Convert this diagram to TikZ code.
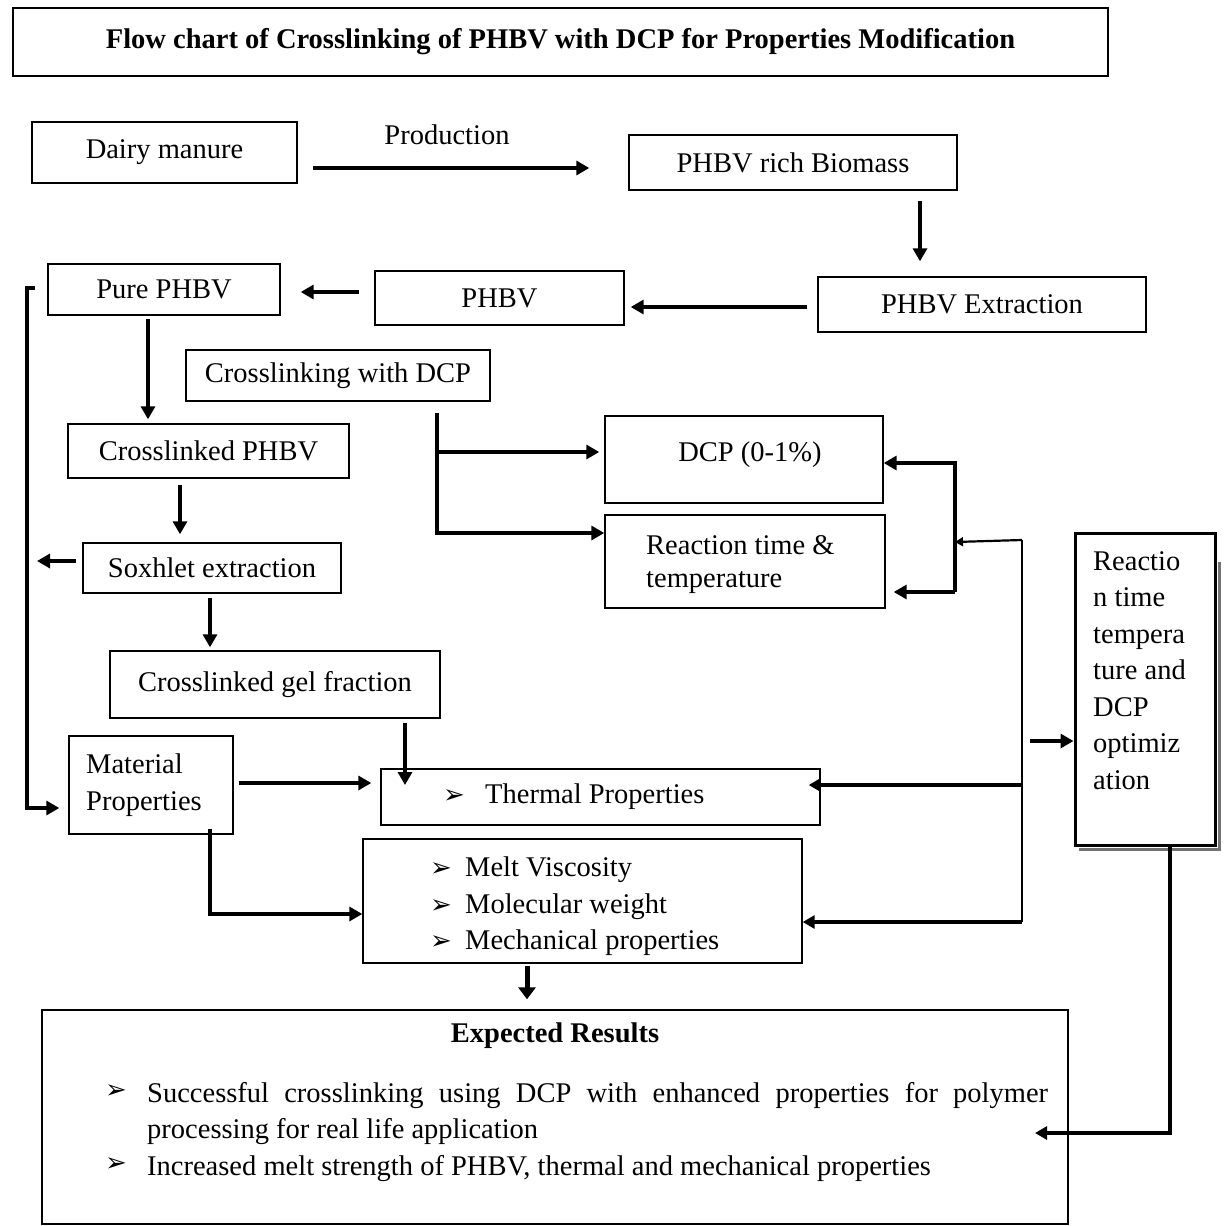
\documentclass[tikz,border=0pt]{standalone}
\usepackage{fontspec}
\setmainfont{Liberation Serif}
\newfontfamily\dvfont{DejaVu Sans}
\usetikzlibrary{arrows.meta}
\newcommand\fs{\fontsize{28.5}{36.5}\selectfont}
\newcommand\bul{{\dvfont\fontsize{26}{26}\selectfont ➢}}
\begin{document}
\begin{tikzpicture}[x=1pt,y=-1pt,
  box/.style={draw, line width=1.4pt, inner sep=0pt, font=\fs},
  txt/.style={inner sep=0pt, font=\fs},
  arr/.style={line width=4.5pt, -{Triangle[length=13pt,width=14pt]}},
  arrm/.style={line width=3.5pt, -{Triangle[length=12pt,width=13pt]}},
  thinln/.style={line width=2.2pt},
  thinarr/.style={line width=2.2pt, -{Triangle[length=8pt,width=9pt]}}]
\useasboundingbox[fill=white] (0,0) rectangle (1225,1226);

% boxes
\node[box, minimum width=1095pt, minimum height=68pt] (title) at (560.5,42) {\bfseries Flow chart of Crosslinking of PHBV with DCP for Properties Modification};
\node[box, minimum width=265pt, minimum height=61pt] (dairy) at (164.5,152.5) {Dairy manure};
\node[txt] (prod) at (447,135) {Production};
\node[box, minimum width=328pt, minimum height=55pt] (biomass) at (793,162.5) {PHBV rich Biomass};
\node[box, minimum width=328pt, minimum height=55pt] (extr) at (982,304.5) {PHBV Extraction};
\node[box, minimum width=249pt, minimum height=54pt] (phbv) at (499.5,298) {PHBV};
\node[box, minimum width=232pt, minimum height=51pt] (pure) at (164,289.5) {Pure PHBV};
\node[box, minimum width=304pt, minimum height=51pt] (xdcp) at (338,375.5) {Crosslinking with DCP};
\node[box, minimum width=281pt, minimum height=54pt] (xphbv) at (208.5,451) {Crosslinked PHBV};
\node[box, minimum width=258pt, minimum height=50pt] (sox) at (212,568) {Soxhlet extraction};
\node[box, minimum width=330pt, minimum height=67pt] (gel) at (275,684.5) {Crosslinked gel fraction};
\node[box, minimum width=164pt, minimum height=98pt] (mat) at (151,785) {};
\node[txt, anchor=north west, align=left] (matt) at (86,754) {Material\\Properties};
\node[box, minimum width=439pt, minimum height=56pt] (therm) at (600.5,797) {};
\node[txt, anchor=west] (thermt) at (443,797) {\makebox[42pt][l]{\bul}Thermal Properties};
\node[box, minimum width=439pt, minimum height=124pt] (props) at (582.5,901) {};
\node[txt, anchor=north west, align=left] (propst) at (430,857) {\makebox[35pt][l]{\bul}Melt Viscosity\\\makebox[35pt][l]{\bul}Molecular weight\\\makebox[35pt][l]{\bul}Mechanical properties};
\node[box, minimum width=1026pt, minimum height=214pt] (res) at (555,1117) {};
\node[txt, font=\fs\bfseries] (rest) at (555,1036) {Expected Results};
\node[txt, anchor=north west, align=left] (resi) at (147,1082) {\makebox[901pt][s]{Successful crosslinking using DCP with enhanced properties for polymer}\\processing for real life application\\Increased melt strength of PHBV, thermal and mechanical properties};
\node[txt] (b1) at (116,1092) {\bul};
\node[txt] (b2) at (116,1165) {\bul};
\node[box, minimum width=278pt, minimum height=87pt] (dcp) at (744,459.5) {};
\node[txt] (dcpt) at (750,455) {DCP (0-1\%)};
\node[box, minimum width=280pt, minimum height=93pt] (rt) at (745,561.5) {};
\node[txt, anchor=north west, align=left, font=\fontsize{28.5}{33}\selectfont] (rtt) at (646,535) {Reaction time \&\\temperature};
\node[box, line width=3pt, minimum width=140pt, minimum height=312pt] (opt) at (1145,689) {};
\node[txt, anchor=north west, align=left] (optt) at (1093,551) {Reactio\\n time\\tempera\\ture and\\DCP\\optimiz\\ation};
\draw[black!55, line width=2.5pt] ([xshift=3pt,yshift=-30pt]opt.north east) -- ([xshift=3pt,yshift=-3pt]opt.south east) -- ([xshift=5pt,yshift=-3pt]opt.south west);

% helper coordinates
\coordinate (h1) at (0,168);
\coordinate (v1) at (920,0);
\coordinate (h2) at (0,307);
\coordinate (h3) at (0,292);
\coordinate (v2) at (148,0);
\coordinate (v3) at (180,0);
\coordinate (v4) at (210,0);
\coordinate (h4) at (0,561);
\coordinate (soxend) at (37,561);
\coordinate (lb1) at (27,288);
\coordinate (lb2) at (27,808);
\coordinate (v5) at (405,0);
\coordinate (gelend) at (405,785);
\coordinate (h9) at (0,783);
\coordinate (h10) at (0,914);
\coordinate (v8) at (527,0);
\coordinate (v6) at (437,0);
\coordinate (h5) at (0,452);
\coordinate (h6) at (0,533);
\coordinate (brt) at (955,463);
\coordinate (brb) at (955,592);
\coordinate (tj) at (1022,540);
\coordinate (tjend) at (955,542);
\coordinate (tm) at (1022,785);
\coordinate (tb) at (1022,922);
\coordinate (h7) at (0,741);
\coordinate (v7) at (1170,0);
\coordinate (h8) at (0,1133);
\coordinate (resend) at (1035,1133);

% connectors
\draw[arr, shorten <=15pt, shorten >=39pt] (dairy.east |- h1) -- (biomass.west |- h1);
\draw[arr, shorten <=10pt, shorten >=15pt] (biomass.south -| v1) -- (extr.north -| v1);
\draw[arr, shorten <=10pt, shorten >=6pt] (extr.west |- h2) -- (phbv.east |- h2);
\draw[arr, shorten <=15pt, shorten >=20pt] (phbv.west |- h3) -- (pure.east |- h3);
\draw[arr, shorten <=3pt, shorten >=4pt] (pure.south -| v2) -- (xphbv.north -| v2);
\draw[arr, shorten <=6pt, shorten >=8pt] (xphbv.south -| v3) -- (sox.north -| v3);
\draw[arr, shorten <=4pt, shorten >=3pt] (sox.south -| v4) -- (gel.north -| v4);
\draw[arr, shorten <=6pt] (sox.west |- h4) -- (soxend);
\draw[arr, shorten <=12pt, shorten >=9pt] (pure.west |- lb1) -- (lb1) -- (lb2) -- (mat.west |- lb2);
\draw[arr, shorten <=4pt] (gel.south -| v5) -- (gelend);
\draw[arr, shorten <=5pt, shorten >=9pt] (mat.east |- h9) -- (therm.west |- h9);
\draw[arr, shorten <=-6pt] (mat.south -| v4) -- (v4 |- h10) -- (props.west |- h10);
\draw[line width=5pt, -{Triangle[length=12pt,width=17pt]}, shorten <=2pt, shorten >=10pt] (props.south -| v8) -- (res.north -| v8);
\draw[arr, shorten <=11pt] (xdcp.south -| v6) -- (v6 |- h6) -- (rt.west |- h6);
\draw[arr, shorten >=5pt] (v6 |- h5) -- (dcp.west |- h5);
\draw[arr] (brb) -- (brt) -- (dcp.east |- brt);
\draw[arr, shorten >=8pt] (brb) -- (rt.east |- brb);
\draw[thinarr] (tj) -- (tjend);
\draw[thinln] (tj) -- (tb);
\draw[arrm, shorten >=-12pt] (tm) -- (therm.east |- tm);
\draw[arrm] (tb) -- (props.east |- tb);
\draw[arr, shorten <=8pt] (tj |- h7) -- (opt.west |- h7);
\draw[arrm] (opt.south -| v7) -- (v7 |- h8) -- (resend);
\end{tikzpicture}
\end{document}
